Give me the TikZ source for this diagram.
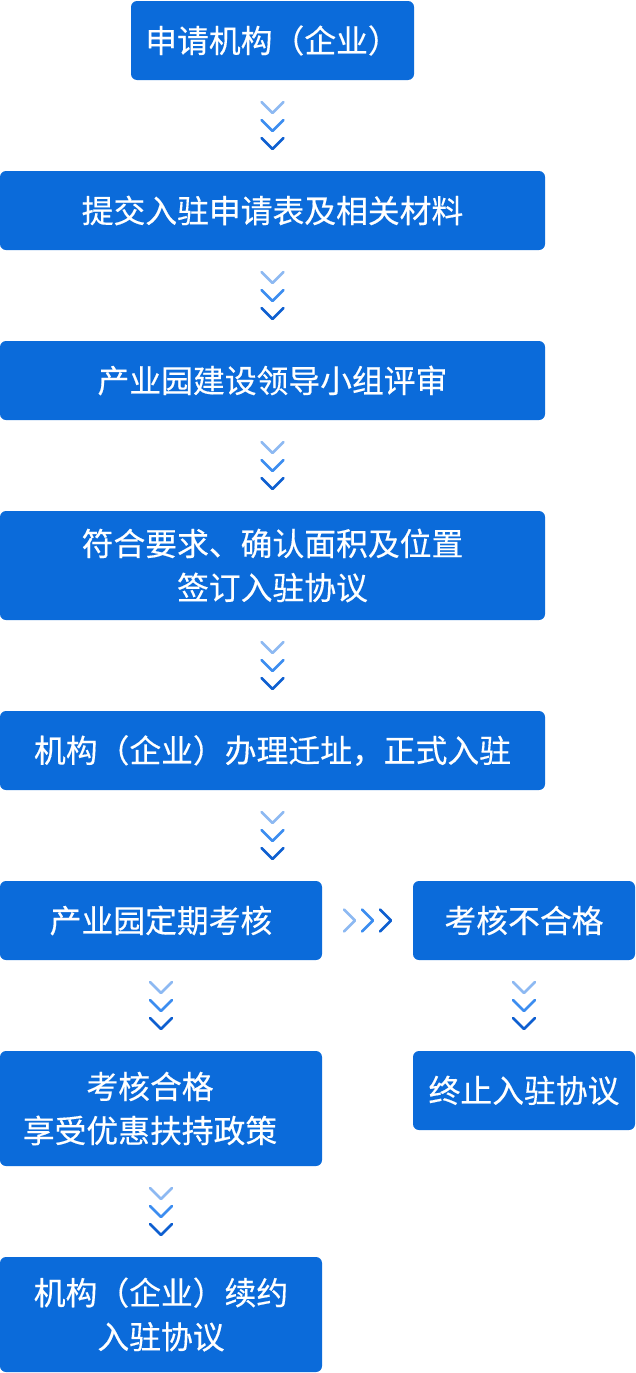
\documentclass[tikz,border=0pt]{standalone}
\usepackage{fontspec}
\newfontfamily\cjk[FakeBold=0.4]{Noto Sans CJK SC}
\definecolor{boxblue}{HTML}{0B6BDA}
\definecolor{chevA}{HTML}{8DB9F2}
\definecolor{chevB}{HTML}{3C8DF0}
\definecolor{chevC}{HTML}{0E5FD0}
\tikzset{
  box/.style={fill=boxblue, rounded corners=6pt, text=white, inner sep=0pt,
    font=\cjk\fontsize{31.8}{44}\selectfont, align=center},
  boxtext/.style={text=white, inner sep=0pt, font=\cjk\fontsize{31.8}{44}\selectfont, align=center},
  chevline/.style={line width=2.6pt, line cap=round, line join=round},
  chevdown/.pic={
    \draw[chevline, chevA] (-11,-23.5) -- (0,-12.5) -- (11,-23.5);
    \draw[chevline, chevB] (-11,-5.5) -- (0,5.5) -- (11,-5.5);
    \draw[chevline, chevC] (-11,12.5) -- (0,23.5) -- (11,12.5);
  },
  chevright/.pic={
    \draw[chevline, chevA] (-23.5,-11) -- (-12.5,0) -- (-23.5,11);
    \draw[chevline, chevB] (-5.5,-11) -- (5.5,0) -- (-5.5,11);
    \draw[chevline, chevC] (12.5,-11) -- (23.5,0) -- (12.5,11);
  }
}
\begin{document}
\begin{tikzpicture}[x=1pt,y=-1pt]
\useasboundingbox (0,0) rectangle (635,1373);
\node[box, minimum width=283pt, minimum height=79pt] (b1) at (272.5,40.5) {申请机构（企业）};
\node[box, minimum width=545pt, minimum height=79pt] (b2) at (272.5,210.5) {提交入驻申请表及相关材料};
\node[box, minimum width=545pt, minimum height=79pt] (b3) at (272.5,380.5) {产业园建设领导小组评审};
\node[box, minimum width=545pt, minimum height=109pt] (b4) at (272.5,565.5) {符合要求、确认面积及位置\\签订入驻协议};
\node[box, minimum width=545pt, minimum height=79pt] (b5) at (272.5,750.5) {机构（企业）办理迁址，正式入驻};
\node[box, minimum width=322pt, minimum height=79pt] (b6) at (161,920.5) {产业园定期考核};
\node[box, minimum width=222pt, minimum height=79pt] (b7) at (524,920.5) {考核不合格};
\node[box, minimum width=322pt, minimum height=115pt] (b8) at (161,1108.5) {};
\node[boxtext] (t8) at ([xshift=-11pt]b8.center) {考核合格\\享受优惠扶持政策};
\node[box, minimum width=222pt, minimum height=79pt] (b9) at (524,1090.5) {终止入驻协议};
\node[box, minimum width=322pt, minimum height=115pt] (b10) at (161,1314.5) {机构（企业）续约\\入驻协议};

\path (b1.south) -- (b2.north) pic[pos=0.5] {chevdown};
\path (b2.south) -- (b3.north) pic[pos=0.5] {chevdown};
\path (b3.south) -- (b4.north) pic[pos=0.5] {chevdown};
\path (b4.south) -- (b5.north) pic[pos=0.5] {chevdown};
\path (b5.south) -- (b5.south |- b6.north) pic[pos=0.5] {chevdown};
\path (b6.east) -- (b7.west) pic[pos=0.5] {chevright};
\path (b6.south) -- (b8.north) pic[pos=0.5] {chevdown};
\path (b7.south) -- (b9.north) pic[pos=0.5] {chevdown};
\path (b8.south) -- (b10.north) pic[pos=0.5] {chevdown};
\end{tikzpicture}
\end{document}
